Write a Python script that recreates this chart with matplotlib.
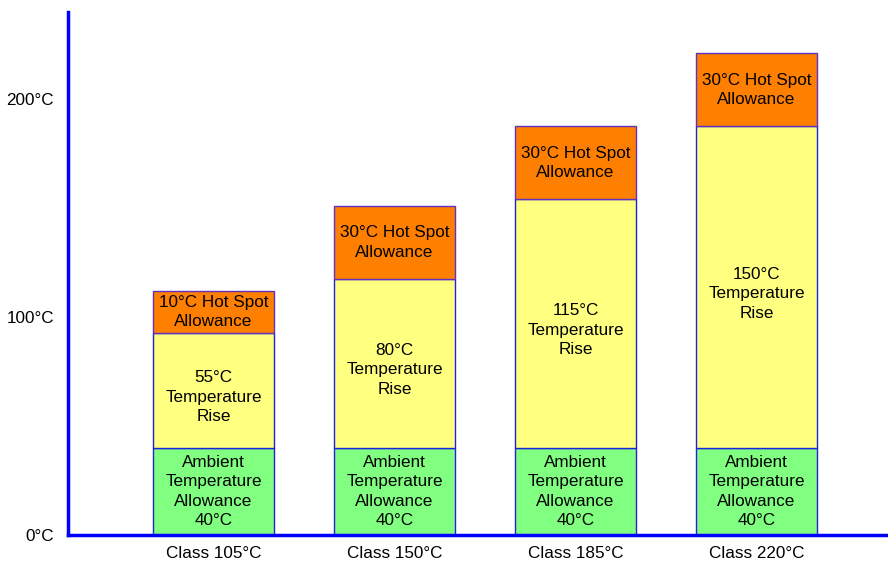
import numpy as np
import matplotlib.pyplot as plt

plt.rcParams['font.family'] = ['Liberation Sans', 'DejaVu Sans']

# 数据（标注值）
classes = ['Class 105°C', 'Class 150°C', 'Class 185°C', 'Class 220°C']
ambient_label = [40, 40, 40, 40]
rise_label = [55, 80, 115, 150]
hotspot_label = [10, 30, 30, 30]

# 图中实际绘制的高度（按像素读取）
ambient = [40, 40, 40, 40]
rise = [52.5, 77.5, 114, 147.5]
hotspot = [19.5, 33.5, 33.5, 33.5]

yticks = [0, 100, 200]
ytick_labels = ['0°C', '100°C', '200°C']

x = np.arange(len(classes))
w = 0.67

fig = plt.figure(figsize=(8.88, 5.63), dpi=100)
ax = fig.add_axes([68 / 888, 28 / 563, 820 / 888, 523 / 563])

edge = '#2020e0'
ax.bar(x, ambient, w, color='#80ff80', edgecolor=edge, linewidth=1)
ax.bar(x, rise, w, bottom=ambient, color='#ffff80', edgecolor=edge, linewidth=1)
bot2 = np.array(ambient) + np.array(rise)
ax.bar(x, hotspot, w, bottom=bot2, color='#ff8000', edgecolor='#6030c0', linewidth=1)

fs = 12.3
ls = 1.38
for i in range(len(classes)):
    ax.text(x[i], ambient[i] / 2, 'Ambient\nTemperature\nAllowance\n%d°C' % ambient_label[i],
            ha='center', va='center', fontsize=fs, linespacing=ls)
    ax.text(x[i], ambient[i] + rise[i] / 2 - 3, '%d°C\nTemperature\nRise' % rise_label[i],
            ha='center', va='center', fontsize=fs, linespacing=ls)
    ax.text(x[i], bot2[i] + hotspot[i] / 2, '%d°C Hot Spot\nAllowance' % hotspot_label[i],
            ha='center', va='center', fontsize=fs, linespacing=ls)

ax.set_xlim(-0.804, 3.726)
ax.set_ylim(0, 240)
ax.set_xticks(x)
ax.set_xticklabels(classes, fontsize=fs)
ax.set_yticks(yticks)
ax.set_yticklabels(ytick_labels, fontsize=fs)
ax.tick_params(length=0)
ax.tick_params(axis='y', pad=10)
ax.tick_params(axis='x', pad=8)

for s in ['top', 'right']:
    ax.spines[s].set_visible(False)
for s in ['left', 'bottom']:
    ax.spines[s].set_color('#0000ff')
    ax.spines[s].set_linewidth(2.5)

fig.savefig('out.png', dpi=100)
